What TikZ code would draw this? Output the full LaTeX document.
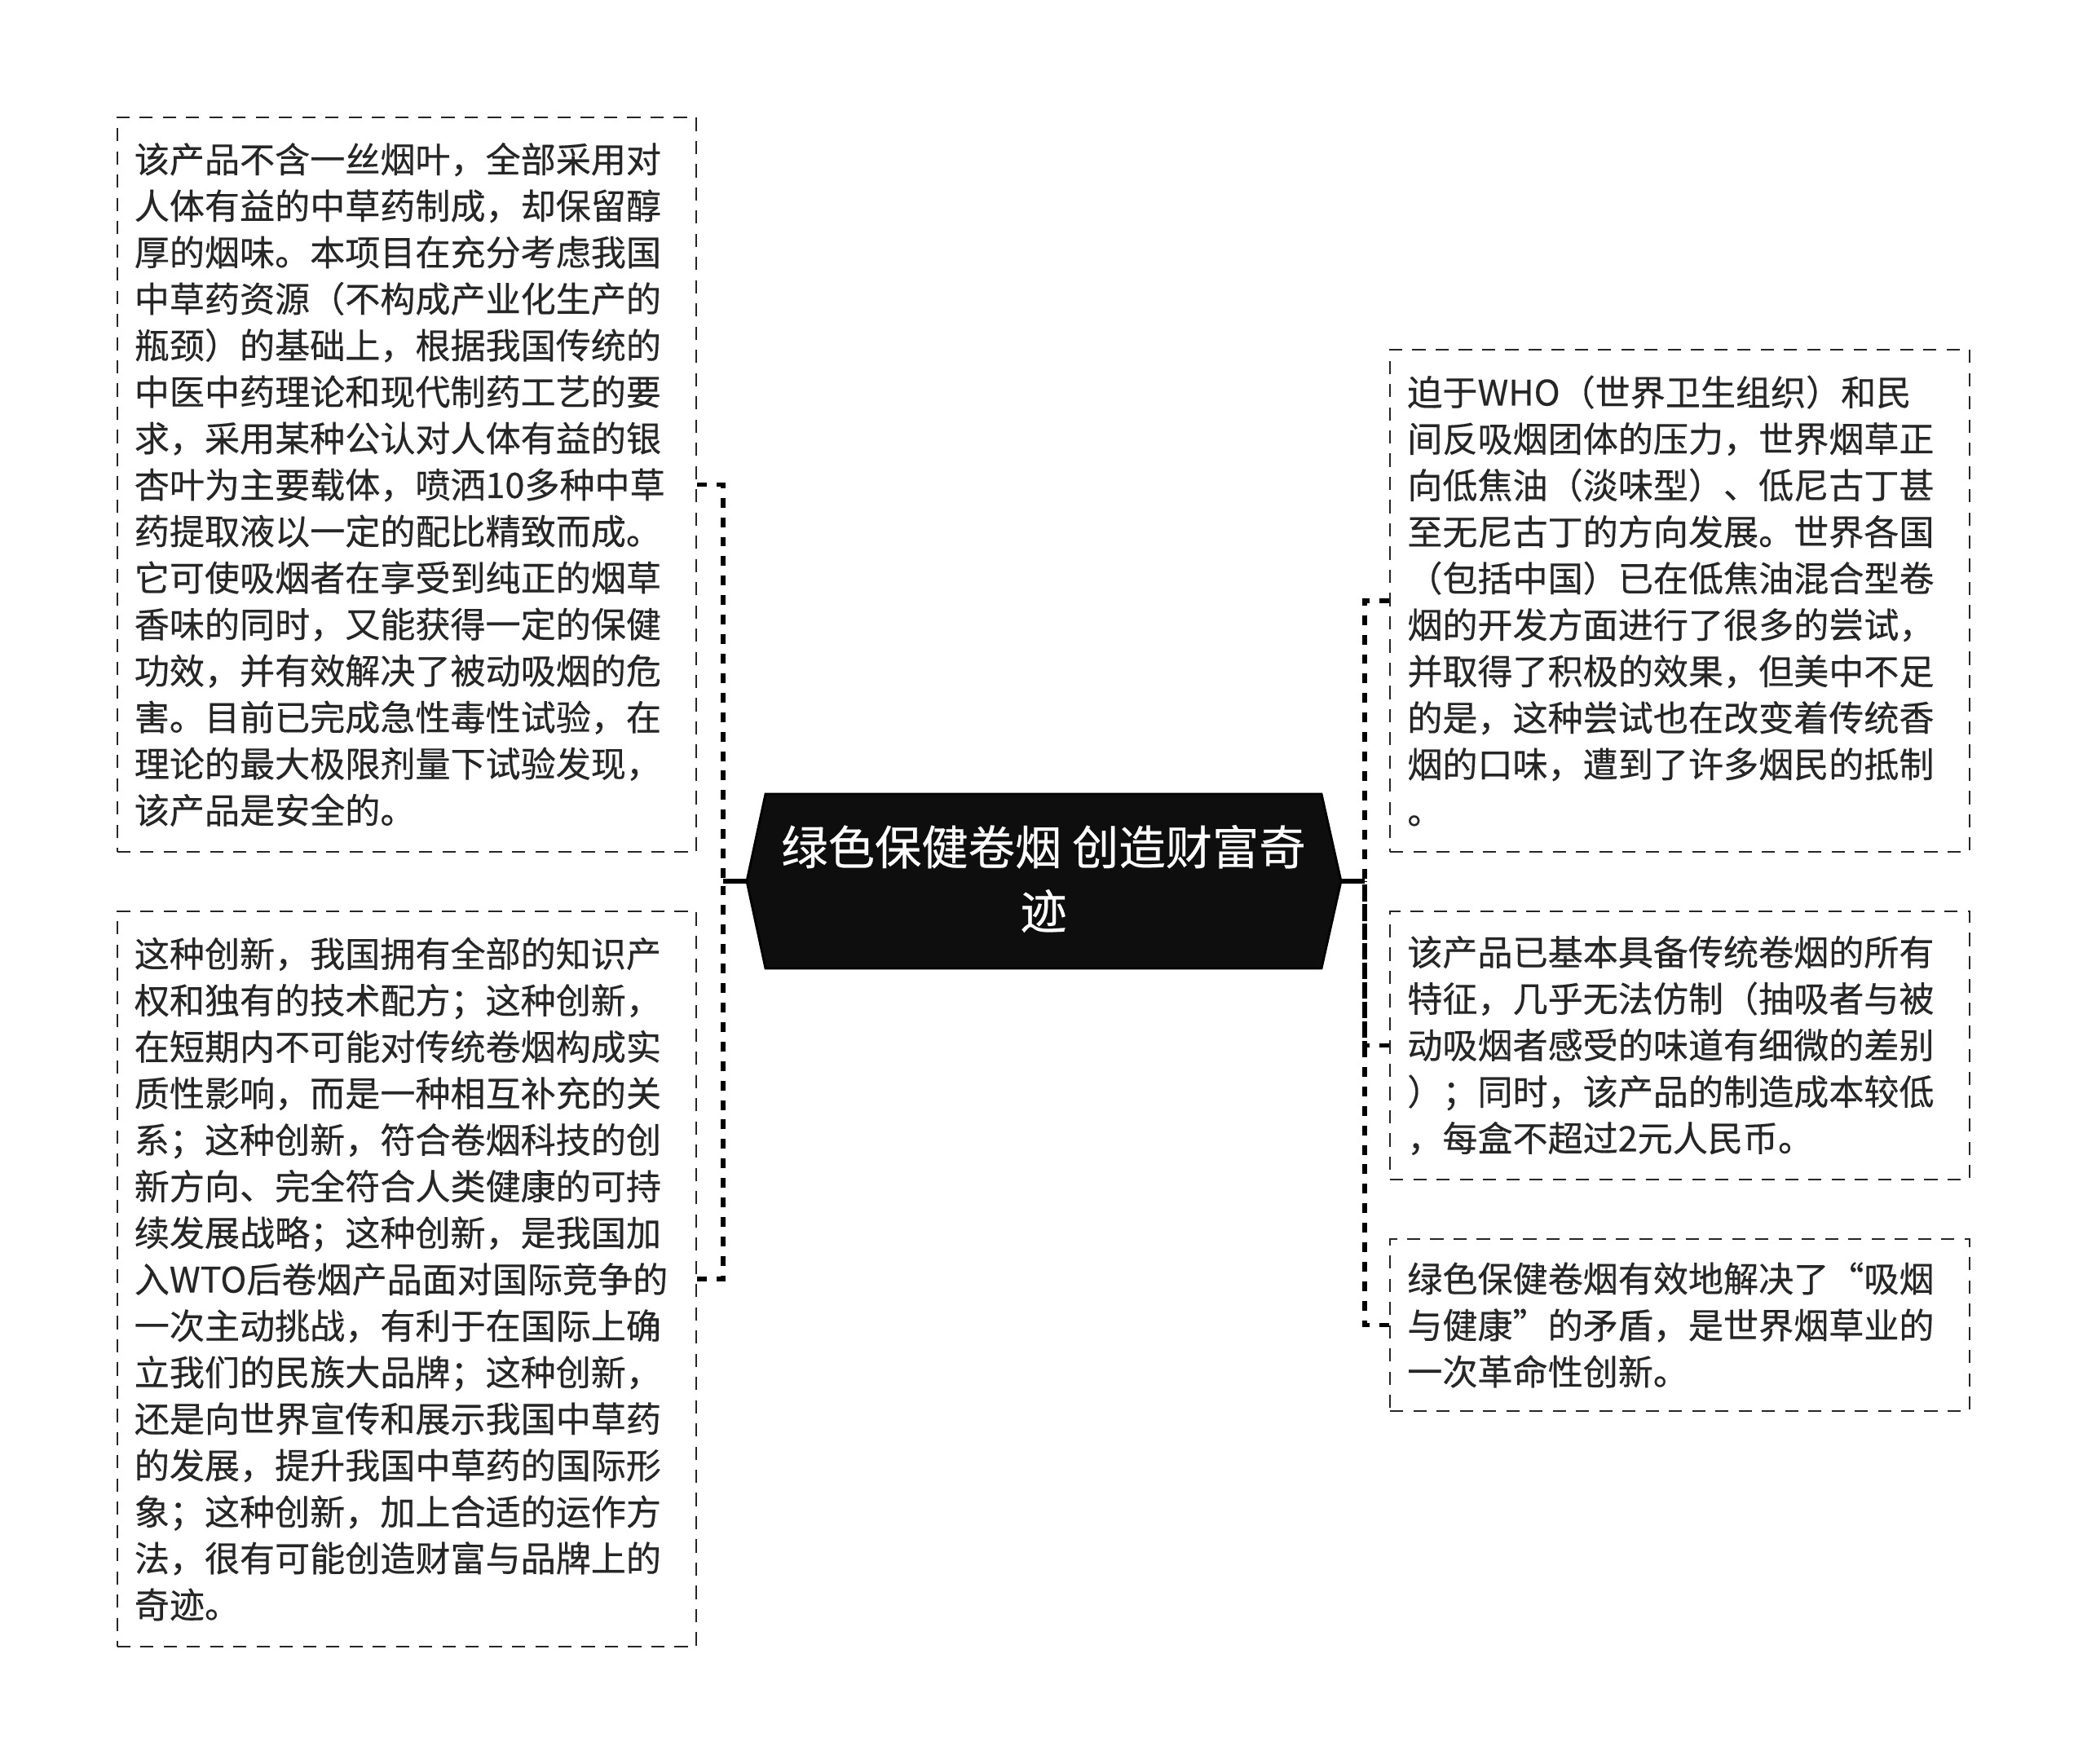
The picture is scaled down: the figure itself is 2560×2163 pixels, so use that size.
\documentclass[tikz,border=0pt]{standalone}
\usepackage{fontspec}
\setmainfont{Noto Sans CJK SC}[FakeBold=0.35]
\definecolor{txtc}{HTML}{262626}
\definecolor{boxc}{HTML}{262626}
\definecolor{hexc}{HTML}{0E0E0E}
\begin{document}
\begin{tikzpicture}[x=0.01cm,y=-0.01cm,
  infobox/.style={draw=boxc, line width=0.65pt, dash pattern=on 4.6pt off 3.5pt,
    text=txtc, align=left, text width=6.68cm, inner xsep=0.21cm, inner ysep=0pt,
    font=\fontsize{12.25pt}{16.22pt}\selectfont, minimum width=7.1cm, anchor=center},
  conn/.style={draw=black, line width=1.45pt, dash pattern=on 3.4pt off 3.4pt},
  stem/.style={draw=black, line width=1.5pt},
  hexshape/.style={fill=hexc, draw=black, line width=0.8pt},
  centertext/.style={text=white, align=center, font=\fontsize{16.3pt}{22.4pt}\selectfont, inner sep=0pt}
]
\useasboundingbox (0,0) rectangle (2560,2163);

% central node
\path[hexshape] (916,1081) -- (939,974) -- (1621,974) -- (1645,1081) -- (1621,1188) -- (939,1188) -- cycle;
\node[centertext] (c) at (1280,1078) {绿色保健卷烟 创造财富奇\\迹};
\coordinate (cL) at (916,1081);
\coordinate (cR) at (1645,1081);
\coordinate (jl) at (887,1081);
\coordinate (jr) at (1674,1081);

% left boxes
\node[infobox, minimum height=9.01cm] (l1) at (499,594.5) {该产品不含一丝烟叶，全部采用对\\人体有益的中草药制成，却保留醇\\厚的烟味。本项目在充分考虑我国\\中草药资源（不构成产业化生产的\\瓶颈）的基础上，根据我国传统的\\中医中药理论和现代制药工艺的要\\求，采用某种公认对人体有益的银\\杏叶为主要载体，喷洒10多种中草\\药提取液以一定的配比精致而成。\\它可使吸烟者在享受到纯正的烟草\\香味的同时，又能获得一定的保健\\功效，并有效解决了被动吸烟的危\\害。目前已完成急性毒性试验，在\\理论的最大极限剂量下试验发现，\\该产品是安全的。};
\node[infobox, minimum height=9.02cm] (l2) at (499,1569) {这种创新，我国拥有全部的知识产\\权和独有的技术配方；这种创新，\\在短期内不可能对传统卷烟构成实\\质性影响，而是一种相互补充的关\\系；这种创新，符合卷烟科技的创\\新方向、完全符合人类健康的可持\\续发展战略；这种创新，是我国加\\入WTO后卷烟产品面对国际竞争的\\一次主动挑战，有利于在国际上确\\立我们的民族大品牌；这种创新，\\还是向世界宣传和展示我国中草药\\的发展，提升我国中草药的国际形\\象；这种创新，加上合适的运作方\\法，很有可能创造财富与品牌上的\\奇迹。};

% right boxes
\node[infobox, minimum height=6.16cm] (r1) at (2060.5,737) {迫于WHO（世界卫生组织）和民\\间反吸烟团体的压力，世界烟草正\\向低焦油（淡味型）、低尼古丁甚\\至无尼古丁的方向发展。世界各国\\（包括中国）已在低焦油混合型卷\\烟的开发方面进行了很多的尝试，\\并取得了积极的效果，但美中不足\\的是，这种尝试也在改变着传统香\\烟的口味，遭到了许多烟民的抵制\\。};
\node[infobox, minimum height=3.29cm] (r2) at (2060.5,1282.5) {该产品已基本具备传统卷烟的所有\\特征，几乎无法仿制（抽吸者与被\\动吸烟者感受的味道有细微的差别\\）；同时，该产品的制造成本较低\\，每盒不超过2元人民币。};
\node[infobox, minimum height=2.11cm] (r3) at (2060.5,1625.5) {绿色保健卷烟有效地解决了“吸烟\\与健康”的矛盾，是世界烟草业的\\一次革命性创新。};

% connectors
\draw[stem] (cL) -- (jl);
\draw[stem] (cR) -- (jr);
\draw[conn] (l1.east) -| (jl);
\draw[conn] (l2.east) -| (jl);
\draw[conn] (r1.west) -| (jr);
\draw[conn] (r2.west) -| (jr);
\draw[conn] (r3.west) -| (jr);
\end{tikzpicture}
\end{document}
